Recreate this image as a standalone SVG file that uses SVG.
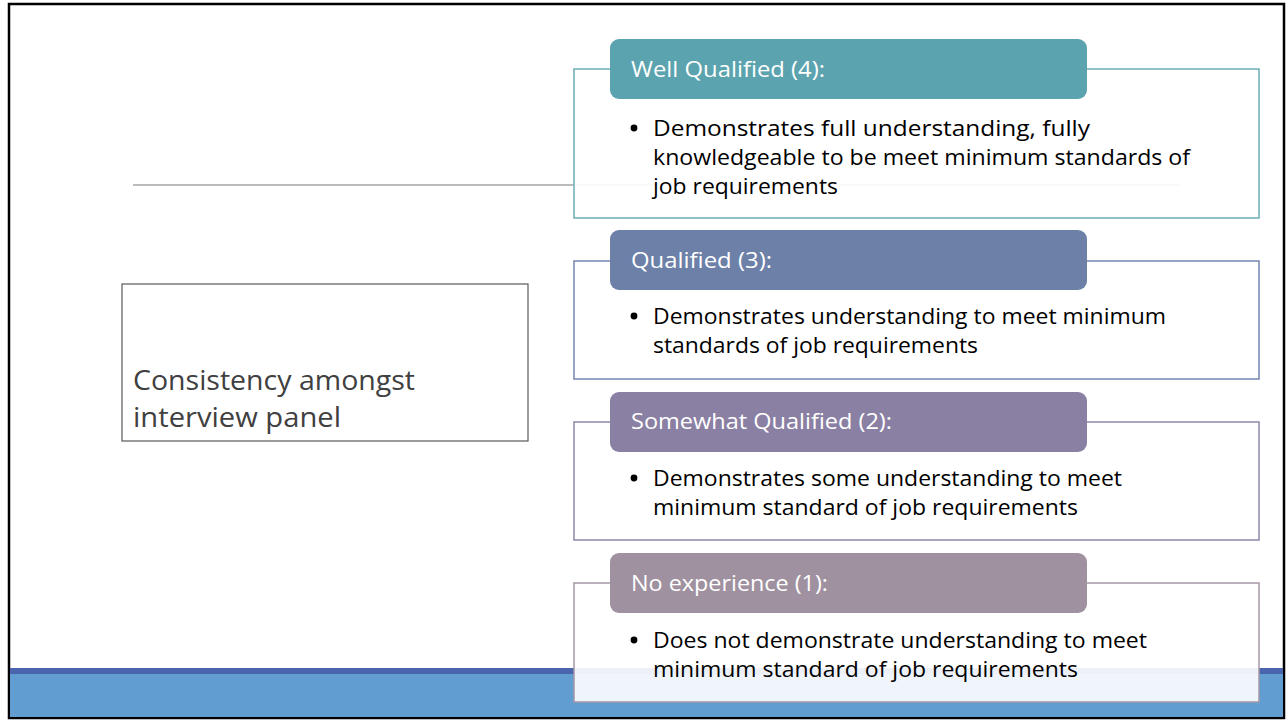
<svg xmlns="http://www.w3.org/2000/svg" width="1286" height="721" viewBox="0 0 1286 721">
  <style>
    .frame { fill: #ffffff; stroke: #000000; stroke-width: 2.5; }
    .rule { stroke: #a6a6a6; stroke-width: 1.5; }
    .title-box { fill: none; stroke: #595959; stroke-width: 1.2; }
    .title { font-family: "Open Sans", "Liberation Sans", sans-serif; font-size: 28px; fill: #404040; }
    .card { fill: #ffffff; fill-opacity: 0.9; stroke-width: 1.5; }
    .head-text { font-family: "Open Sans", "Liberation Sans", sans-serif; font-size: 22px; fill: #ffffff; }
    .body-text { font-family: "Open Sans", "Liberation Sans", sans-serif; font-size: 22.5px; fill: #000000; }
    .bullet { fill: #000000; }
  </style>

  <!-- slide background and frame -->
  <rect class="frame" x="9" y="4" width="1275" height="714"/>

  <!-- footer band -->
  <rect x="10" y="668" width="1273" height="6" fill="#4a64ae"/>
  <rect x="10" y="674" width="1273" height="43" fill="#629dd1"/>

  <!-- title underline -->
  <line class="rule" x1="133" y1="185" x2="1180" y2="185"/>

  <!-- title -->
  <g id="title">
    <rect class="title-box" x="122" y="284" width="406" height="157"/>
    <text class="title" x="133" y="390" textLength="282" lengthAdjust="spacingAndGlyphs">Consistency amongst</text>
    <text class="title" x="133" y="427" textLength="208" lengthAdjust="spacingAndGlyphs">interview panel</text>
  </g>

  <!-- rating 4 -->
  <g id="well-qualified">
    <rect class="card" x="574" y="69" width="685" height="149" stroke="#6cadb6"/>
    <rect x="610" y="39" width="477" height="60" rx="9" fill="#5ba3ae"/>
    <text class="head-text" x="631" y="77" textLength="194" lengthAdjust="spacingAndGlyphs">Well Qualified (4):</text>
    <circle class="bullet" cx="634" cy="128" r="3.4"/>
    <text class="body-text" x="653" y="136" textLength="437" lengthAdjust="spacingAndGlyphs">Demonstrates full understanding, fully</text>
    <text class="body-text" x="653" y="165" textLength="537" lengthAdjust="spacingAndGlyphs">knowledgeable to be meet minimum standards of</text>
    <text class="body-text" x="653" y="194" textLength="185" lengthAdjust="spacingAndGlyphs">job requirements</text>
  </g>

  <!-- rating 3 -->
  <g id="qualified">
    <rect class="card" x="574" y="261" width="685" height="118" stroke="#7387b0"/>
    <rect x="610" y="230" width="477" height="60" rx="9" fill="#6c80a8"/>
    <text class="head-text" x="631" y="268" textLength="141" lengthAdjust="spacingAndGlyphs">Qualified (3):</text>
    <circle class="bullet" cx="634" cy="316" r="3.4"/>
    <text class="body-text" x="653" y="324" textLength="513" lengthAdjust="spacingAndGlyphs">Demonstrates understanding to meet minimum</text>
    <text class="body-text" x="653" y="353" textLength="325" lengthAdjust="spacingAndGlyphs">standards of job requirements</text>
  </g>

  <!-- rating 2 -->
  <g id="somewhat-qualified">
    <rect class="card" x="574" y="422" width="685" height="118" stroke="#8f87aa"/>
    <rect x="610" y="392" width="477" height="60" rx="9" fill="#8a80a3"/>
    <text class="head-text" x="631" y="429" textLength="261" lengthAdjust="spacingAndGlyphs">Somewhat Qualified (2):</text>
    <circle class="bullet" cx="634" cy="478" r="3.4"/>
    <text class="body-text" x="653" y="486" textLength="469" lengthAdjust="spacingAndGlyphs">Demonstrates some understanding to meet</text>
    <text class="body-text" x="653" y="515" textLength="425" lengthAdjust="spacingAndGlyphs">minimum standard of job requirements</text>
  </g>

  <!-- rating 1 -->
  <g id="no-experience">
    <rect class="card" x="574" y="583" width="685" height="119" stroke="#a597a6"/>
    <rect x="610" y="553" width="477" height="60" rx="9" fill="#a091a0"/>
    <text class="head-text" x="631" y="591" textLength="197" lengthAdjust="spacingAndGlyphs">No experience (1):</text>
    <circle class="bullet" cx="634" cy="640" r="3.4"/>
    <text class="body-text" x="653" y="648" textLength="494" lengthAdjust="spacingAndGlyphs">Does not demonstrate understanding to meet</text>
    <text class="body-text" x="653" y="677" textLength="425" lengthAdjust="spacingAndGlyphs">minimum standard of job requirements</text>
  </g>
</svg>
